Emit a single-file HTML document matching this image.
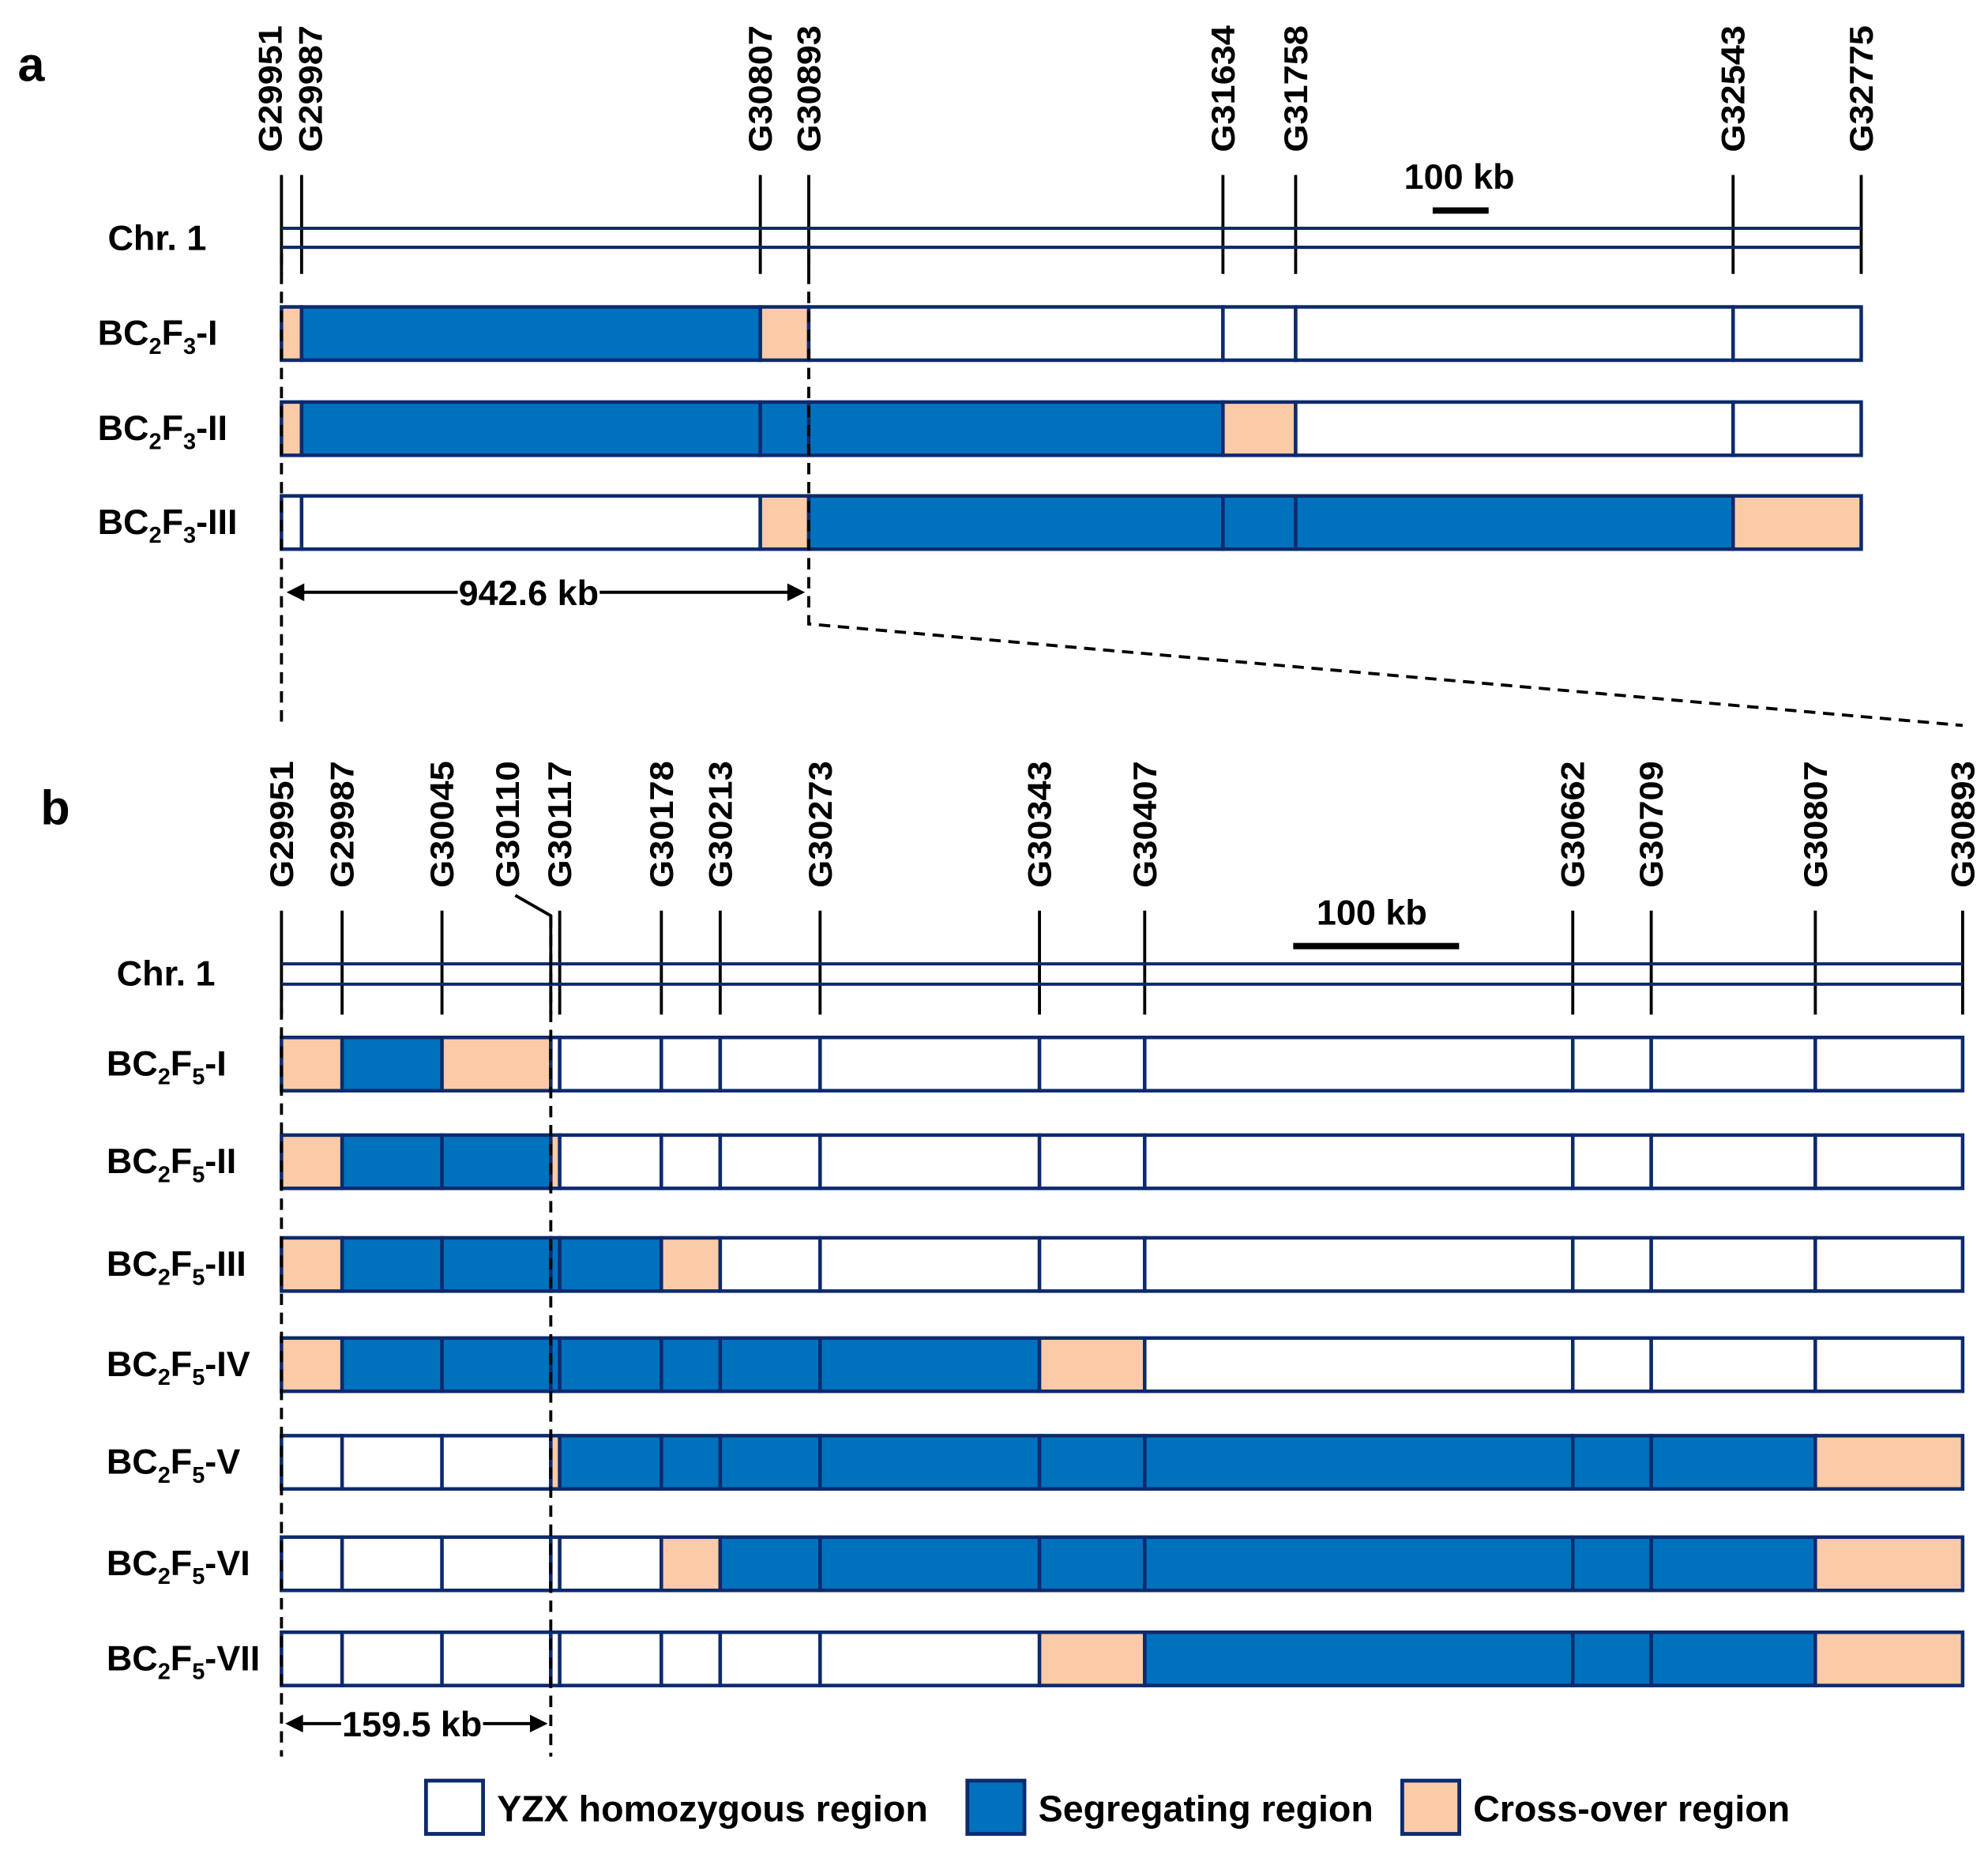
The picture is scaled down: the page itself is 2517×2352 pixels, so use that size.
<!DOCTYPE html>
<html><head><meta charset="utf-8"><style>
html,body{margin:0;padding:0;background:#fff;}
svg{display:block;font-family:"Liberation Sans",Arial,sans-serif;font-weight:bold;}
</style></head><body>
<svg id="chart" width="2517" height="2352" viewBox="0 0 1568 1465" preserveAspectRatio="none" xmlns="http://www.w3.org/2000/svg">
<g id="root"></g>
</svg>
<script>
// Panel a data (kb from G29951)
const markersA = ["G29951","G29987","G30807","G30893","G31634","G31758","G32543","G32775"];
const posA = [0, 36, 856, 942.6, 1683, 1813, 2595, 2824];
const rowsA = ["I","II","III"];
const genoA = [
  ["P","B","P","W","W","W","W"],
  ["P","B","B","B","P","W","W"],
  ["W","W","P","B","B","B","P"]
];
// Panel b data (kb from G29951)
const markersB = ["G29951","G29987","G30045","G30110","G30117","G30178","G30213","G30273","G30343","G30407","G30662","G30709","G30807","G30893"];
const posB = [0, 34, 90, 151, 156, 213, 246, 302, 425, 484, 724, 768, 860, 942.6];
const rowsB = ["I","II","III","IV","V","VI","VII"];
const genoB = [
  ["P","B","P","W","W","W","W","W","W","W","W","W","W"],
  ["P","B","B","P","W","W","W","W","W","W","W","W","W"],
  ["P","B","B","B","B","P","W","W","W","W","W","W","W"],
  ["P","B","B","B","B","B","B","B","P","W","W","W","W"],
  ["W","W","W","P","B","B","B","B","B","B","B","B","P"],
  ["W","W","W","W","W","P","B","B","B","B","B","B","P"],
  ["W","W","W","W","W","W","W","W","P","B","B","B","P"]
];
const spanA = 942.6, spanB = 159.5;

const NS="http://www.w3.org/2000/svg";
const root=document.getElementById('root');
const COL={W:"#ffffff",B:"#0071bc",P:"#fbcba7"};
const NAVY="#0d2a6e";
function mk(tag,attrs,parent){const e=document.createElementNS(NS,tag);for(const k in attrs)e.setAttribute(k,attrs[k]);(parent||root).appendChild(e);return e;}
function xA(v){return 222+v*(1468-222)/2824;}
function xB(v){return 222+v*(1548-222)/942.6;}

function rowLabel(x,y,gen,roman,name){
  const t=mk('text',{x:x,y:y,'font-size':28});
  
  
  t.innerHTML='BC<tspan font-size="18" dy="7">2</tspan><tspan dy="-7">F</tspan><tspan font-size="18" dy="7">'+gen+'</tspan><tspan dy="-7">-'+roman+'</tspan>';
}
function drawPanel(markers,pos,xf,rows,geno,cfg){
  markers.forEach((m,i)=>{
    let x=xf(pos[i]);
    let slant=cfg.labelShift&&cfg.labelShift[i]!==undefined;
    let off=slant?cfg.labelShift[i]:(cfg.labelOff&&cfg.labelOff[i]!==undefined?cfg.labelOff[i]:0);
    let lx=x+off;
    const t=mk('text',{x:0,y:0,'font-size':26,'text-anchor':'start',textLength:100,lengthAdjust:'spacingAndGlyphs',transform:'translate('+(lx+9)+','+cfg.labBot+') rotate(-90)'});
    t.textContent=m;
    
    
    let l;
    if(slant){
      l=mk('polyline',{points:(lx+6)+','+(cfg.lineTop-12)+' '+x+','+(cfg.lineTop+4)+' '+x+','+cfg.lineBot,fill:'none',stroke:'#000','stroke-width':2.4});
    } else {
      l=mk('line',{x1:x,y1:cfg.lineTop,x2:x,y2:cfg.lineBot,stroke:'#000','stroke-width':2.4});
    }
    
    
  });
  const x0=xf(pos[0]),x1=xf(pos[pos.length-1]);
  [cfg.chrY,cfg.chrY+cfg.chrGap].forEach((y,k)=>{
    const c=mk('line',{x1:x0,y1:y,x2:x1,y2:y,stroke:NAVY,'stroke-width':2.5});
    
    
  });
  const ct=mk('text',{x:cfg.chrLabX,y:cfg.chrY+17,'font-size':28});
  ct.textContent='Chr. 1';
  
  
  rows.forEach((r,ri)=>{
    const y=cfg.rowY[ri];
    const g=mk('g',{});
    
    
    geno[ri].forEach((c,si)=>{
      const a=xf(pos[si]),b=xf(pos[si+1]);
      const s=mk('rect',{x:a,y:y,width:b-a,height:cfg.rowH,fill:COL[c],stroke:NAVY,'stroke-width':2.8},g);
      
      
    });
    rowLabel(cfg.rowLabX,y+cfg.rowH/2+9,cfg.gen,r,'row-label-'+r.toLowerCase());
  });
}
drawPanel(markersA,posA,xA,rowsA,genoA,{labBot:120,lineTop:138,lineBot:216,chrY:180,chrGap:15,chrLabX:85,rowY:[242,317,391],rowH:42,rowLabX:77,gen:'3',labelOff:{0:-9,1:7}});
drawPanel(markersB,posB,xB,rowsB,genoB,{labBot:700,lineTop:718,lineBot:800,chrY:760,chrGap:16,chrLabX:92,rowY:[818,895,976,1055,1132,1212,1287],rowH:42,rowLabX:84,gen:'5',labelShift:{3:-34}});

function txt(x,y,s,size,name,anchor){const t=mk('text',{x:x,y:y,'font-size':size,'text-anchor':anchor||'start'});t.textContent=s;return t;}
txt(14,64,'a',38,'panel-a-label');
txt(32,650,'b',38,'panel-b-label');
txt(1151,149,'100 kb',28,'scale-label-a','middle');
let sb=mk('line',{x1:1130,y1:166,x2:1130+100*(1468-222)/2824,y2:166,stroke:'#000','stroke-width':5});

txt(1082,729,'100 kb',28,'scale-label-b','middle');
sb=mk('line',{x1:1020,y1:746,x2:1020+100*(1548-222)/942.6*0.93,y2:746,stroke:'#000','stroke-width':5});

function dash(pts,name){const p=mk('polyline',{points:pts,fill:'none',stroke:'#000','stroke-width':2.4,'stroke-dasharray':'9,6'});}
dash('222,200 222,575','guide-left-a');
dash(xA(spanA)+',200 '+xA(spanA)+',492 1548,572','guide-zoom');
dash('222,780 222,1385','guide-left-b');
dash(xB(151)+',722 '+xB(151)+',1385','guide-right-b');
function arrow(xa,xb,y,label,tx,name){
  const g=mk('g',{});
  mk('line',{x1:xa+10,y1:y,x2:xb-10,y2:y,stroke:'#000','stroke-width':2.5},g);
  mk('polygon',{points:xa+','+y+' '+(xa+14)+','+(y-7)+' '+(xa+14)+','+(y+7),fill:'#000'},g);
  mk('polygon',{points:xb+','+y+' '+(xb-14)+','+(y-7)+' '+(xb-14)+','+(y+7),fill:'#000'},g);
  const w=label.length*14;
  mk('rect',{x:tx-w/2,y:y-16,width:w,height:32,fill:'#fff'},g);
  const t=mk('text',{x:tx,y:y+10,'font-size':28,'text-anchor':'middle'},g);t.textContent=label;
}
arrow(226,635,467,'942.6 kb',417,'distance-arrow-a');
arrow(225,432,1359,'159.5 kb',325,'distance-arrow-b');
const legItems=[["W","YZX homozygous region",336],["B","Segregating region",763],["P","Cross-over region",1106]];
legItems.forEach(it=>{
  const g=mk('g',{});
  mk('rect',{x:it[2],y:1404,width:45,height:42,fill:COL[it[0]],stroke:NAVY,'stroke-width':3},g);
  const t=mk('text',{x:it[2]+56,y:1436,'font-size':29},g);t.textContent=it[1];
});
</script>
</body></html>
